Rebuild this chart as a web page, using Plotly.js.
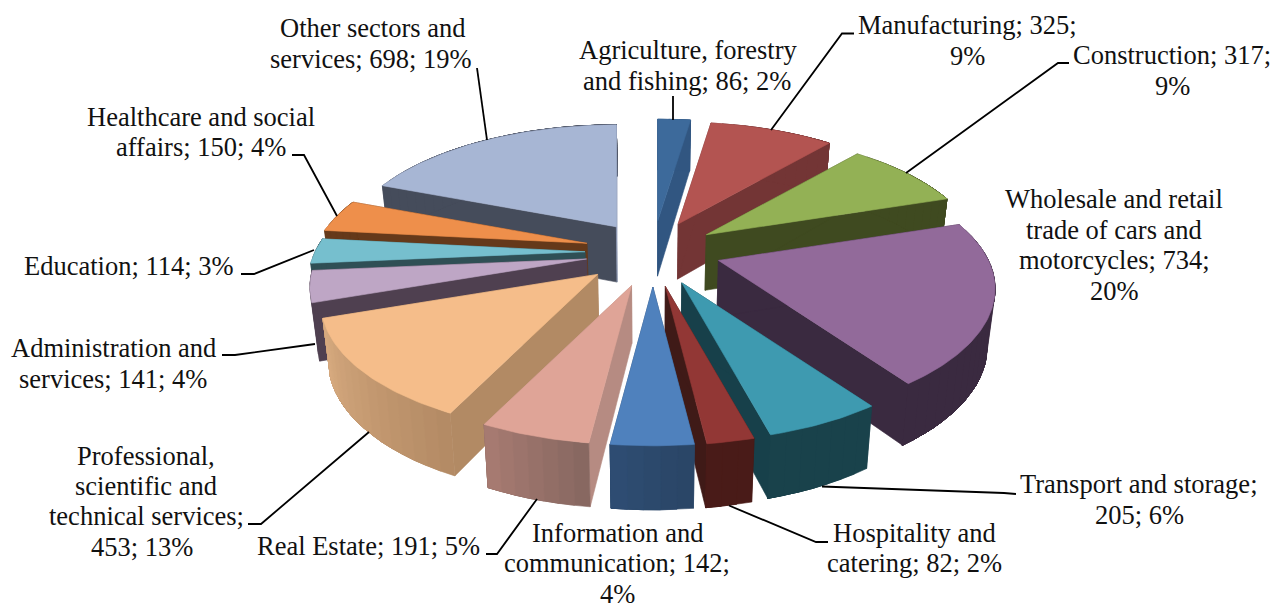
<!DOCTYPE html>
<html>
<head>
<meta charset="utf-8">
<script src="https://cdn.plot.ly/plotly-3.0.1.min.js"></script>
<style>html,body{margin:0;padding:0;background:#fff}#chart{width:1274px;height:605px}</style>
</head>
<body>
<div id="chart"></div>
<script>
// ---- data ----
const categories = ["Agriculture, forestry and fishing","Manufacturing","Construction",
  "Wholesale and retail trade of cars and motorcycles","Transport and storage","Hospitality and catering",
  "Information and communication","Real Estate","Professional, scientific and technical services",
  "Administration and services","Education","Healthcare and social affairs","Other sectors and services"];
const values = [86,325,317,734,205,82,142,191,453,141,114,150,698];
const percents = [2,9,9,20,6,2,4,5,13,4,3,4,19];

// ---- styles ----
const topColors = ["#3d6a9b","#b35451","#93b155","#926a9a","#3e9ab0","#923735","#4f81bd","#dfa497","#f5bd8a","#bea6c5","#76bfce","#ee8f4b","#a7b6d4"];
const wallColors = ["#315681","#733535","#3f4a20","#3a2a40","#17404a","#3f1a17","#2c4a70","#b68b82","#b28a64","#4f4050","#2f4f55","#65391a","#454c5b"];
const endWallColors = ["#315681","#733535","#3f4a20","#3a2a40","#17404a","#3f1a17","#2c4a70","#b68b82","#b28a64","#4f4050","#2f4f55","#65391a","#8d99b6"];
const outerFrom = ["#315681","#733535","#3f4a20","#3a2a40","#19424b","#491b18","#2a4565","#866660","#b38a64","#4f4050","#2f4f55","#65391a","#454c5b"];
const outerTo   = ["#315681","#733535","#3f4a20","#3a2a40","#19424b","#491b18","#2e4d74","#a87c72","#d8ab80","#4f4050","#2f4f55","#65391a","#454c5b"];

// ---- label text, one line per entry, with placement ----
const labelLines = [
 ["Agriculture, forestry",688,50],["and fishing; 86; 2%",687,81],
 ["Manufacturing; 325;",967,25],["9%",967,56],
 ["Construction; 317;",1172,55],["9%",1172,86],
 ["Wholesale and retail",1114,199],["trade of cars and",1114,230],["motorcycles; 734;",1114,260],["20%",1114,291],
 ["Transport and storage;",1139,484],["205; 6%",1139,515],
 ["Hospitality and",914,533],["catering; 82; 2%",914,563],
 ["Information and",617,533],["communication; 142;",617,563],["4%",617,594],
 ["Real Estate; 191; 5%",368,546],
 ["Professional,",146,456],["scientific and",146,486],["technical services;",146,516],["453; 13%",142,547],
 ["Administration and",113,348],["services; 141; 4%",113,379],
 ["Education; 114; 3%",129,266],
 ["Healthcare and social",201,117],["affairs; 150; 4%",201,147],
 ["Other sectors and",372,28],["services; 698; 19%",371,59]
];
const leaders = [
 [[673,96],[673,120]],
 [[854,33.5],[842,33.5],[771,130]],
 [[1069,63],[1058,63],[906,173]],
 [[1016,494],[1004,493],[822,486.5]],
 [[828,542],[816,542],[729,505.5]],
 [[486,554],[497,554],[537,499]],
 [[248,524],[261,524],[369,432]],
 [[222,355],[235,355],[315,344]],
 [[241,274],[254,274],[314,250]],
 [[292,155],[304,155],[337,216]],
 [[477,68],[487,140]]
];

// ---- projection of the tilted, exploded pie onto the hidden pixel-like axes ----
const cx = 650, cy = 252, explodeX = 70, explodeY = 33;
const R = 270, kR = 124.2, q = 0.218;
const nudgeX = [2.5,-1,-2,2,2,2,3,1.5,0,5,5,5,6];
const nudgeY = [2,2,1,-2,1,2,2,2,0.5,0,0,-1,2];
const rad = d => d * Math.PI / 180;
const total = values.reduce((s, v) => s + v, 0);
let run = 0;
const slices = values.map((v, i) => {
  const a0 = run / total * 360; run += v; const a1 = run / total * 360;
  return {i, a0, a1, m: (a0 + a1) / 2};
});
function apex(s) {
  return [cx + nudgeX[s.i] + explodeX * Math.sin(rad(s.m)), cy + nudgeY[s.i] - explodeY * Math.cos(rad(s.m))];
}
function rim(s, a) {
  const A = apex(s), u = Math.sin(rad(a)), v = -Math.cos(rad(a)), p = 1 / (1 - q * v);
  return [A[0] + R * u * p, A[1] + kR * v * p];
}
function drop(P) { return [cx + (P[0] - cx) * 0.977, P[1] * 1.04 + 46.2]; }
function hex(c) { return [1,3,5].map(k => parseInt(c.substr(k,2),16)); }
function mix(c1, c2, t) {
  const a = hex(c1), b = hex(c2);
  return "rgb(" + a.map((x, k) => Math.round(x + (b[k]-x)*t)).join(",") + ")";
}
function poly(pts, color, name) {
  const x = pts.map(p => p[0]), y = pts.map(p => p[1]);
  x.push(x[0]); y.push(y[0]);
  return {type:"scatter", mode:"lines", x, y, fill:"toself", fillcolor:color, name,
          line:{color, width:0.6}, hoverinfo:"skip", showlegend:false};
}
const traces = [];
slices.slice().sort((a, b) => Math.cos(rad(b.m)) - Math.cos(rad(a.m))).forEach(s => {
  const i = s.i, name = categories[i], A = apex(s);
  const r0 = rim(s, s.a0), r1 = rim(s, s.a1);
  const endWall = poly([A, r1, drop(r1), drop(A)], endWallColors[i], name);
  const endWallOnTop = s.a1 > 359.9;   // the last slice shows a sliver of this wall past its outer wall
  if (!endWallOnTop) traces.push(endWall);
  traces.push(poly([A, r0, drop(r0), drop(A)], wallColors[i], name));
  const step = (s.a1 - s.a0) / Math.max(1, Math.ceil((s.a1 - s.a0) / 3));
  // Each strip of the outer wall reaches to the end of the slice, so that the next one
  // paints over it and no seam shows between them.
  for (let a = s.a0; a < s.a1 - 1e-6; a += step) {
    const strip = [];
    for (let b = a; b < s.a1; b += step) strip.push(rim(s, b));
    strip.push(r1);
    const lower = strip.map(drop).reverse();
    traces.push(poly(strip.concat(lower), mix(outerFrom[i], outerTo[i], (a + step/2 - s.a0) / (s.a1 - s.a0)), name));
  }
  if (endWallOnTop) traces.push(endWall);
  const face = [A];
  for (let a = s.a0; a < s.a1; a += 1) face.push(rim(s, a));
  face.push(r1);
  traces.push(poly(face, topColors[i], name));
});
leaders.forEach(l => traces.push({type:"scatter", mode:"lines", x:l.map(p=>p[0]), y:l.map(p=>p[1]),
  line:{color:"#000", width:1.8}, hoverinfo:"skip", showlegend:false}));

const annotations = labelLines.map(l => ({text:l[0], x:l[1], y:l[2], xref:"x", yref:"y",
  xanchor:"center", yanchor:"middle", showarrow:false,
  font:{family:"Liberation Serif", size:26.5, color:"#111"}}));

Plotly.newPlot("chart", traces, {
  width:1274, height:605, margin:{l:0,r:0,t:0,b:0}, paper_bgcolor:"#fff", plot_bgcolor:"#fff",
  showlegend:false, annotations,
  xaxis:{range:[0,1274], visible:false, fixedrange:true},
  yaxis:{range:[605,0], visible:false, fixedrange:true}
}, {staticPlot:true, displayModeBar:false});
</script>
</body>
</html>
